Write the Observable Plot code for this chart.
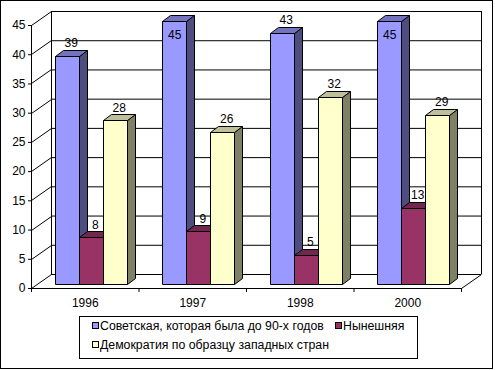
<!DOCTYPE html>
<html>
<head>
<meta charset="utf-8">
<script src="https://cdn.jsdelivr.net/npm/d3@7"></script>
<script src="https://cdn.jsdelivr.net/npm/@observablehq/plot@0.6"></script>
<style>
  html, body { margin: 0; padding: 0; background: #fff; }
  #root { position: relative; width: 495px; height: 370px; font-family: "Liberation Sans", Arial, sans-serif; }
  #border { position: absolute; left: 0; top: 0; width: 493px; height: 369px; border: 1px solid #000; box-sizing: border-box; }
  #plot { position: absolute; left: 0; top: 0; }
  #legend { position: absolute; left: 79px; top: 316px; width: 339px; height: 43px; border: 1px solid #000; box-sizing: border-box; background: #fff; }
  .sw { position: absolute; width: 7px; height: 7px; border: 1px solid #000; box-sizing: border-box; }
  .lt { position: absolute; font-size: 12.3px; line-height: 14px; white-space: nowrap; color: #000; }
</style>
</head>
<body>
<div id="root">
  <div id="plot"></div>
  <div id="legend"></div>
  <div id="border"></div>
</div>
<script>
// ---- data ----
const years = ["1996", "1997", "1998", "2000"];
const seriesNames = [
  "Советская, которая была до 90-х годов",
  "Нынешняя",
  "Демократия по образцу западных стран"
];
const soviet = [39, 45, 43, 45];
const current = [8, 9, 5, 13];
const western = [28, 26, 32, 29];
const yTicks = [0, 5, 10, 15, 20, 25, 30, 35, 40, 45];

// ---- styles ----
const frontColors = ["#9999FF", "#993366", "#FFFFCC"];
const sideColors = ["#4D4D80", "#4D1A33", "#808066"];
const topColors = ["#7373BF", "#732650", "#BFBF99"];

const series = [soviet, current, western];
const yMax = 45;
// depth geometry (pixels)
const WALL = {dx: 20, dy: -14};
const BAR_FRONT = {dx: 6, dy: -4};
const BAR_DEPTH = {dx: 8, dy: -6};
const groupPad = 0.165, barW = (1 - 2 * groupPad) / 3;

const bars = [];
years.forEach((yr, i) => {
  series.forEach((vals, s) => {
    const x0 = i + groupPad + s * barW;
    bars.push({i, s, x0, x1: x0 + barW, xc: x0 + barW / 2, v: vals[i], inside: vals[i] >= yMax});
  });
});

const crisp = v => Math.round(v) + 0.5;

function sideWall(index, scales) {
  const {x, y} = scales;
  const g = d3.create("svg:g").attr("stroke", "#000").attr("fill", "none");
  for (const t of yTicks) {
    const X = crisp(x(0)), Y = crisp(y(t));
    g.append("path").attr("d", `M${X},${Y}L${X + WALL.dx},${Y + WALL.dy}`);
  }
  // floor right edge
  const Xr = crisp(x(years.length)), Yb = crisp(y(0));
  g.append("path").attr("d", `M${Xr},${Yb}L${Xr + WALL.dx},${Yb + WALL.dy}`);
  return g.node();
}

function bars3d(index, scales) {
  const {x, y} = scales;
  const g = d3.create("svg:g").attr("stroke", "#000").attr("stroke-width", 1);
  for (const b of bars) {
    const X0 = crisp(x(b.x0)) + BAR_FRONT.dx, X1 = crisp(x(b.x1)) + BAR_FRONT.dx;
    const Yb = crisp(y(0)) + BAR_FRONT.dy, Yt = crisp(y(b.v)) + BAR_FRONT.dy;
    const bx = BAR_DEPTH.dx, by = BAR_DEPTH.dy;
    g.append("path").attr("fill", sideColors[b.s])
      .attr("d", `M${X1},${Yt}L${X1 + bx},${Yt + by}L${X1 + bx},${Yb + by}L${X1},${Yb}Z`);
    g.append("path").attr("fill", topColors[b.s])
      .attr("d", `M${X0},${Yt}L${X0 + bx},${Yt + by}L${X1 + bx},${Yt + by}L${X1},${Yt}Z`);
    g.append("path").attr("fill", frontColors[b.s])
      .attr("d", `M${X0},${Yt}L${X1},${Yt}L${X1},${Yb}L${X0},${Yb}Z`);
  }
  return g.node();
}

const H = 312;
const chart = Plot.plot({
  width: 495,
  height: H,
  marginLeft: 31,
  marginRight: 34,
  marginTop: 25,
  marginBottom: H - 288,
  style: {fontFamily: "'Liberation Sans', Arial, sans-serif", fontSize: "12px", color: "#000", background: "transparent", overflow: "visible"},
  x: {type: "linear", domain: [0, years.length], axis: null},
  y: {domain: [0, yMax], axis: null},
  marks: [
    // back wall gridlines & edges
    Plot.ruleY(yTicks, {dx: WALL.dx, dy: WALL.dy, stroke: "#000", strokeOpacity: 1}),
    Plot.ruleX([0, years.length], {y1: 0, y2: yMax, dx: WALL.dx, dy: WALL.dy, stroke: "#000"}),
    sideWall,
    // front axis frame
    Plot.ruleX([0], {y1: 0, y2: yMax, stroke: "#000"}),
    Plot.ruleY([0], {stroke: "#000"}),
    bars3d,
    Plot.text(bars.filter(d => !d.inside), {x: "xc", y: "v", text: "v", dx: 10, dy: -17, fontSize: 12, fill: "#000"}),
    Plot.text(bars.filter(d => d.inside), {x: "xc", y: "v", text: "v", dx: 6, dy: 10, fontSize: 12, fill: "#000"}),
    Plot.axisY({ticks: yTicks, tickSize: 3, tickPadding: 3, label: null, fontSize: 12}),
    Plot.axisX({ticks: d3.range(years.length + 1), tickSize: 4, tickFormat: () => "", label: null}),
    Plot.axisX({ticks: years.map((d, i) => i + 0.5), tickSize: 0, tickPadding: 10, tickFormat: d => years[Math.floor(d)], label: null, fontSize: 12})
  ]
});
document.getElementById("plot").append(chart);

// legend
const legend = document.getElementById("legend");
const items = [
  {s: 0, sx: 12, sy: 5, tx: 20, ty: 2},
  {s: 1, sx: 255, sy: 5, tx: 263, ty: 2},
  {s: 2, sx: 12, sy: 24, tx: 20, ty: 21}
];
for (const it of items) {
  const sw = document.createElement("div");
  sw.className = "sw";
  sw.style.left = it.sx + "px"; sw.style.top = it.sy + "px";
  sw.style.background = frontColors[it.s];
  legend.append(sw);
  const t = document.createElement("div");
  t.className = "lt";
  t.style.left = it.tx + "px"; t.style.top = it.ty + "px";
  t.textContent = seriesNames[it.s];
  legend.append(t);
}
</script>
</body>
</html>
